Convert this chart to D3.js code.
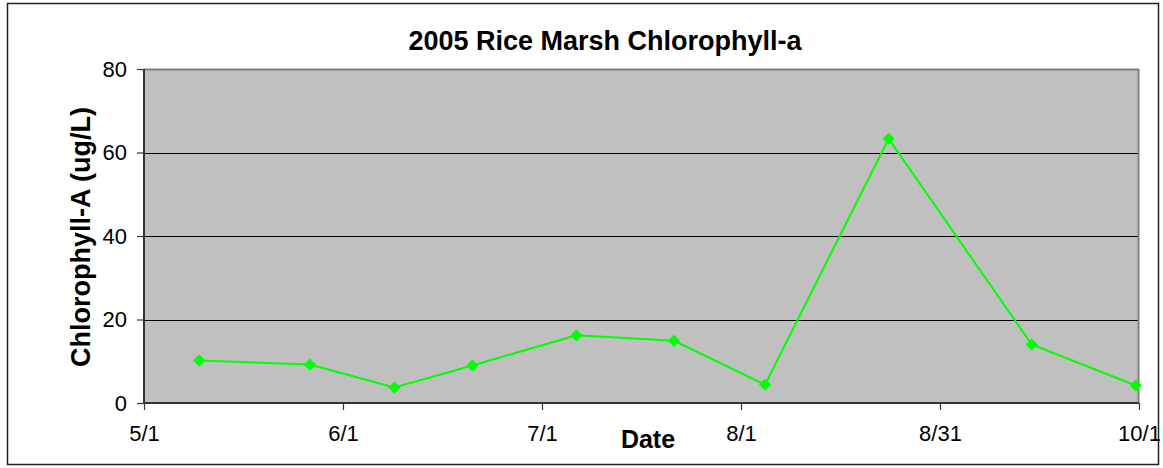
<!DOCTYPE html>
<html>
<head>
<meta charset="utf-8">
<script src="https://cdn.jsdelivr.net/npm/d3@7"></script>
<style>
  body { margin: 0; background: #fff; }
  svg { display: block; font-family: Arial, "Liberation Sans", sans-serif; }
</style>
</head>
<body>
<svg id="chart"></svg>
<script>
// sample dates and chlorophyll-a readings (ug/L)
var sampleDates = ["2005-05-09", "2005-05-26", "2005-06-08", "2005-06-20", "2005-07-06",
                   "2005-07-21", "2005-08-04", "2005-08-23", "2005-09-14", "2005-09-30"];
var chlaValues = [10.2, 9.2, 3.7, 9.0, 16.2, 14.9, 4.4, 63.3, 14.0, 4.2];

// axis: days after 5/1 for each tick, and its label
var xTickDays = [0, 30.6, 61.2, 91.8, 122.4, 153];
var xTickLabels = ["5/1", "6/1", "7/1", "8/1", "8/31", "10/1"];
var yTicks = [0, 20, 40, 60, 80];

var width = 1163, height = 468;
var margin = {top: 69, right: 24, bottom: 65, left: 144};
var pw = width - margin.left - margin.right,
    ph = height - margin.top - margin.bottom;

var svg = d3.select("#chart").attr("width", width).attr("height", height);

// outer frame
svg.append("rect")
  .attr("x", 7.5).attr("y", 3.5)
  .attr("width", 1151).attr("height", 461)
  .attr("fill", "#fff").attr("stroke", "#222").attr("stroke-width", 1.5);

var parse = d3.timeParse("%Y-%m-%d");
var start = parse("2005-05-01");
var data = sampleDates.map(function(d, i) {
  // excel places date points at midday of the day
  var days = (parse(d) - start) / 864e5 + 0.5;
  return {day: days, value: chlaValues[i]};
});

var x = d3.scaleLinear().domain([0, 153]).range([0, pw]);
var y = d3.scaleLinear().domain([0, 80]).range([ph, 0]);

var g = svg.append("g").attr("transform", "translate(" + margin.left + "," + margin.top + ")");

g.append("rect")
  .attr("width", pw).attr("height", ph)
  .attr("fill", "#c0c0c0");

// gridlines
g.selectAll(".grid")
  .data([20, 40, 60])
  .enter().append("line")
  .attr("x1", 0).attr("x2", pw)
  .attr("y1", function(d) { return Math.round(y(d)) + 0.5; })
  .attr("y2", function(d) { return Math.round(y(d)) + 0.5; })
  .attr("stroke", "#000").attr("stroke-width", 1);

// plot border top / right
g.append("path")
  .attr("d", "M0,0.5H" + (pw - 0.5) + "V" + ph)
  .attr("fill", "none").attr("stroke", "#808080").attr("stroke-width", 2);

var yAxis = g.append("g")
  .call(d3.axisLeft(y).tickValues(yTicks).tickSize(7).tickPadding(10));
var xAxis = g.append("g")
  .attr("transform", "translate(0," + ph + ")")
  .call(d3.axisBottom(x).tickValues(xTickDays).tickSize(7).tickPadding(15)
    .tickFormat(function(d, i) { return xTickLabels[i]; }));

[yAxis, xAxis].forEach(function(a) {
  a.select(".domain").attr("stroke", "#333").attr("stroke-width", 2);
  a.selectAll(".tick line").attr("stroke", "#333").attr("stroke-width", 1.2);
  a.selectAll("text").attr("font-size", "22px").attr("fill", "#000")
    .attr("font-family", "Arial, 'Liberation Sans', sans-serif");
});
yAxis.select(".domain").attr("d", "M0," + ph + "V0");
xAxis.select(".domain").attr("d", "M0,0H" + pw);

var line = d3.line()
  .x(function(d) { return x(d.day); })
  .y(function(d) { return y(d.value); });

g.append("path")
  .datum(data)
  .attr("d", line)
  .attr("fill", "none")
  .attr("stroke", "#00ff00")
  .attr("stroke-width", 2);

g.selectAll(".pt")
  .data(data)
  .enter().append("path")
  .attr("d", d3.symbol(d3.symbolSquare).size(74))
  .attr("transform", function(d) { return "translate(" + x(d.day) + "," + y(d.value) + ") rotate(45)"; })
  .attr("fill", "#00ff00");

// titles
svg.append("text")
  .attr("x", 605).attr("y", 50)
  .attr("text-anchor", "middle")
  .attr("font-size", "27px").attr("font-weight", "bold")
  .text("2005 Rice Marsh Chlorophyll-a");

svg.append("text")
  .attr("x", 648).attr("y", 448)
  .attr("text-anchor", "middle")
  .attr("font-size", "25px").attr("font-weight", "bold")
  .text("Date");

svg.append("text")
  .attr("transform", "translate(90,237) rotate(-90)")
  .attr("text-anchor", "middle")
  .attr("font-size", "27px").attr("font-weight", "bold")
  .text("Chlorophyll-A (ug/L)");
</script>
</body>
</html>
